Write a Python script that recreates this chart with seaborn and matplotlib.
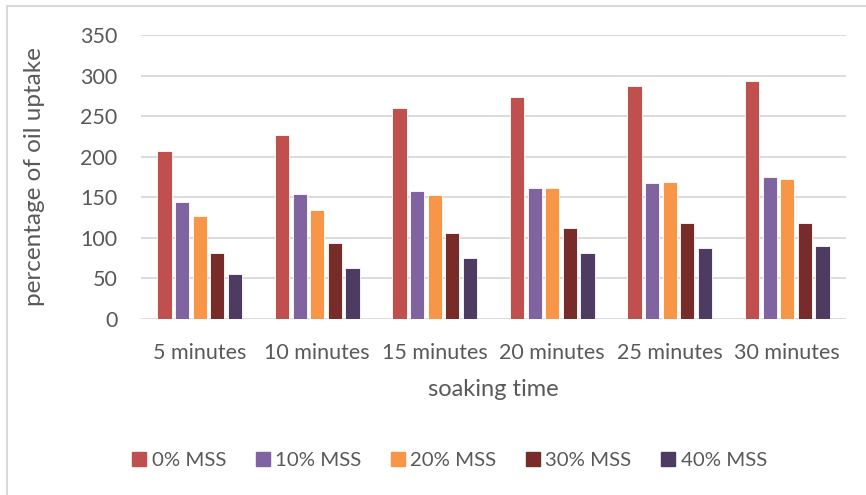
import matplotlib
matplotlib.use("Agg")
import matplotlib.pyplot as plt
import seaborn as sns
import pandas as pd
from matplotlib.patches import Rectangle
from matplotlib.lines import Line2D

categories = ["5 minutes", "10 minutes", "15 minutes", "20 minutes", "25 minutes", "30 minutes"]
series_names = ["0% MSS", "10% MSS", "20% MSS", "30% MSS", "40% MSS"]
mss0 = [207, 227, 260, 273, 287, 293]
mss10 = [144, 154, 158, 161, 168, 175]
mss20 = [127, 134, 153, 162, 169, 173]
mss30 = [81, 94, 106, 112, 118, 118]
mss40 = [56, 63, 75, 81, 87, 90]
yticks = [0, 50, 100, 150, 200, 250, 300, 350]
colors = ["#C0504D", "#8064A2", "#F79646", "#772C2A", "#4D3B62"]

series_values = [mss0, mss10, mss20, mss30, mss40]
rows = []
for name, vals in zip(series_names, series_values):
    for cat, v in zip(categories, vals):
        rows.append({"time": cat, "series": name, "value": v})
df = pd.DataFrame(rows)

sns.set_theme(style="white")
plt.rcParams["font.family"] = ["Lato", "DejaVu Sans"]
text_color = "#595959"

fig = plt.figure(figsize=(8.66, 4.95), dpi=100)
fig.patch.set_facecolor("white")
ax = fig.add_axes([141 / 866, 1 - 319 / 495, (846 - 141) / 866, (319 - 35) / 495])

sns.barplot(data=df, x="time", y="value", hue="series", order=categories,
            hue_order=series_names, palette=colors, saturation=1, width=0.75, gap=0.2,
            edgecolor="white", linewidth=0.6, ax=ax, legend=False, errorbar=None)

ax.set_ylim(0, 350)
ax.set_yticks(yticks)
ax.set_yticklabels([str(t) for t in yticks])
ax.set_xlim(-0.5, len(categories) - 0.5)
ax.yaxis.grid(True, color="#D9D9D9", linewidth=1.3)
ax.set_axisbelow(True)
for s in ax.spines.values():
    s.set_visible(False)
ax.tick_params(axis="both", length=0, labelsize=15.5, colors=text_color)
ax.tick_params(axis="y", pad=17)
ax.tick_params(axis="x", pad=17)
ax.set_xlabel("soaking time", fontsize=17, color=text_color, labelpad=12)
ax.set_ylabel("percentage of oil uptake", fontsize=17.5, color=text_color)
ax.yaxis.set_label_coords((45 - 141) / 705, 0.5)

handles = [Line2D([0], [0], marker="s", linestyle="none", markersize=10,
                  markerfacecolor=c, markeredgecolor=c) for c in colors]
fig.legend(handles, series_names, loc="center", bbox_to_anchor=(448 / 866, 1 - 460 / 495),
           ncol=5, frameon=False, fontsize=14.7, labelcolor=text_color,
           handletextpad=0.1, columnspacing=1.3, handlelength=1.0)

fig.patches.append(Rectangle((7 / 866, -0.1), 1.2, 1 - 6 / 495 + 0.1, transform=fig.transFigure,
                             fill=False, edgecolor="#D9D9D9", linewidth=1.5))

fig.savefig("out.png", dpi=100)
